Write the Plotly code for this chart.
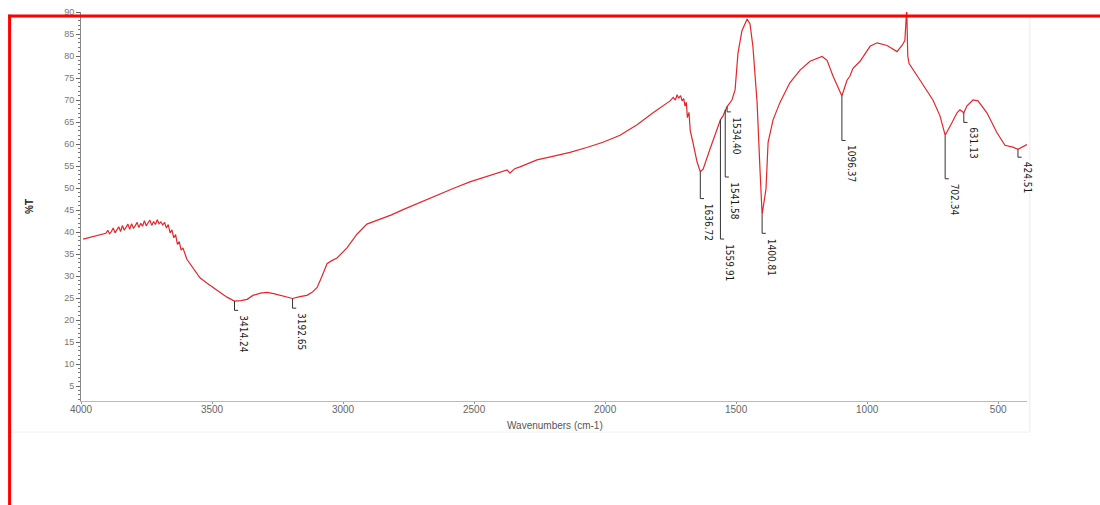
import plotly.graph_objects as go

# ---- spectrum data ----
wavenumber = [3992, 3960, 3927, 3905, 3898, 3891, 3884, 3877, 3870, 3863, 3856, 3849, 3842,
              3835, 3828, 3821, 3814, 3807, 3800, 3793, 3786, 3779, 3772, 3765, 3758,
              3751, 3744, 3737, 3730, 3723, 3716, 3709, 3702, 3695, 3688, 3681, 3674,
              3667, 3660, 3653, 3646, 3639, 3632, 3625, 3618, 3611, 3596, 3570, 3546, 3520,
              3496, 3470, 3443, 3414.24, 3390, 3366, 3344, 3315, 3290, 3265, 3241, 3215,
              3192.65, 3165, 3138, 3118, 3099, 3080, 3061, 3043, 3023, 2985, 2947, 2909,
              2859, 2815, 2771, 2705, 2641, 2580, 2516, 2460, 2412, 2374, 2363, 2345, 2325,
              2260, 2200, 2134, 2070, 2008, 1943, 1878, 1817, 1785, 1752, 1740, 1732, 1725,
              1719, 1712, 1706, 1700, 1695, 1690, 1686, 1680, 1675, 1665, 1649, 1636.72,
              1626, 1600, 1573, 1559.91, 1550, 1541.58, 1534.40, 1516, 1504, 1493, 1478,
              1458, 1447, 1436, 1420, 1409, 1400.81, 1386, 1378, 1359, 1333, 1295, 1256,
              1218, 1172, 1153, 1130, 1096.37, 1077, 1066, 1054, 1027, 989, 962, 924, 886,
              867, 856, 849, 845, 840, 798, 749, 722, 702.34, 676, 657, 646, 631.13, 619,
              596, 577, 543, 505, 474, 444, 424.51, 390]
transmittance = [38.4, 38.9, 39.5, 39.7, 40.4, 39.6, 40.1, 40.9, 39.8, 40.6, 41.2, 40.1, 41.5,
                 40.4, 41.1, 41.8, 40.6, 41.9, 40.9, 41.4, 42.2, 41.0, 42.0, 41.3, 42.6,
                 41.4, 42.1, 42.7, 41.5, 42.4, 41.7, 42.8, 41.9, 42.3, 41.6, 42.2, 40.9,
                 41.7, 39.8, 40.5, 38.7, 39.4, 37.2, 37.8, 35.9, 36.4, 33.8, 31.5, 29.6, 28.4,
                 27.4, 26.2, 25.2, 24.3, 24.4, 24.7, 25.6, 26.1, 26.3, 26.0, 25.6, 25.2,
                 24.9, 25.3, 25.6, 26.3, 27.4, 30.0, 32.8, 33.5, 34.1, 36.4, 39.5, 41.8,
                 42.9, 43.9, 45.1, 46.8, 48.5, 49.9, 51.4, 52.5, 53.4, 54.1, 53.4, 54.4, 54.8,
                 56.4, 57.2, 58.1, 59.2, 60.4, 62.0, 64.4, 67.1, 68.4, 69.8, 70.6, 70.0, 71.2,
                 70.4, 71.0, 69.8, 70.3, 68.6, 69.5, 66.0, 67.2, 63.0, 60.4, 55.9, 53.7,
                 54.3, 58.8, 63.3, 65.5, 66.4, 67.8, 68.5, 70.0, 72.3, 80.6, 85.7,
                 88.4, 87.3, 82.2, 69.4, 54.3, 44.0, 49.8, 60.4, 65.5, 69.4, 73.9, 76.8,
                 78.8, 79.9, 79.0, 75.4, 70.9, 74.5, 75.4, 77.2, 78.8, 82.2, 83.0, 82.4, 81.0,
                 82.4, 83.5, 90.8, 80.0, 78.3, 74.5, 70.0, 66.4, 62.0, 64.9, 67.1, 67.8, 67.1,
                 68.7, 70.0, 69.8, 67.1, 62.6, 59.7, 59.3, 58.8, 59.9]

# ---- peak labels ----
peak_labels = ["3414.24", "3192.65", "1636.72", "1559.91", "1541.58", "1534.40",
               "1400.81", "1096.37", "702.34", "631.13", "424.51"]
peak_pos = [3414.24, 3192.65, 1636.72, 1559.91, 1541.58, 1534.40,
            1400.81, 1096.37, 702.34, 631.13, 424.51]
peak_top = [24.3, 24.9, 53.7, 65.5, 67.8, 68.5, 44.0, 70.9, 62.0, 67.1, 58.8]
peak_bottom = [22.2, 22.7, 47.6, 38.4, 52.5, 67.3, 39.7, 60.8, 52.1, 64.9, 57.0]

x_ticks = [4000, 3500, 3000, 2500, 2000, 1500, 1000, 500]
y_ticks = [5, 10, 15, 20, 25, 30, 35, 40, 45, 50, 55, 60, 65, 70, 75, 80, 85, 90]

fig = go.Figure()
fig.add_trace(go.Scatter(x=wavenumber, y=transmittance, mode="lines",
                         line=dict(color="#e3262b", width=1.2), showlegend=False,
                         hoverinfo="x+y"))

shapes = []
annotations = []
for lab, xp, yt, yb in zip(peak_labels, peak_pos, peak_top, peak_bottom):
    shapes.append(dict(type="line", xref="x", yref="y", x0=xp, x1=xp, y0=yt, y1=yb,
                       line=dict(color="#333333", width=1)))
    shapes.append(dict(type="line", xref="x", yref="y", x0=xp, x1=xp - 14, y0=yb, y1=yb,
                       line=dict(color="#333333", width=1)))
    annotations.append(dict(x=xp, y=yb, xref="x", yref="y", text=lab, showarrow=False,
                            textangle=90, xanchor="center", yanchor="top", xshift=9, yshift=-3,
                            font=dict(family="Liberation Sans Narrow, DejaVu Sans Condensed, Arial",
                                      size=10, color="#1a1a1a")))

# axis titles
annotations.append(dict(x=0.501, y=-0.063, xref="paper", yref="paper",
                        text="Wavenumbers (cm-1)", showarrow=False, yanchor="middle",
                        font=dict(family="Arial, Liberation Sans", size=10, color="#555555")))
annotations.append(dict(x=-0.0624, y=0.5, xref="paper", yref="paper",
                        text="<b>%T</b>", showarrow=False, textangle=-90,
                        font=dict(family="Arial, Liberation Sans", size=10, color="#222222")))

# faint frame of the original picture
shapes.append(dict(type="line", xref="paper", yref="paper", x0=1.003, x1=1.003, y0=0.99, y1=-0.08,
                   line=dict(color="#ececec", width=1)))
shapes.append(dict(type="line", xref="paper", yref="paper", x0=-0.075, x1=1.003, y0=-0.08, y1=-0.08,
                   line=dict(color="#f0f0f0", width=1)))
# red border
shapes.append(dict(type="line", xref="paper", yref="paper", x0=-0.077, x1=1.08, y0=0.9898, y1=0.9898,
                   line=dict(color="#ff0000", width=3), layer="above"))
shapes.append(dict(type="line", xref="paper", yref="paper", x0=-0.0755, x1=-0.0755, y0=0.993, y1=-0.28,
                   line=dict(color="#ff0000", width=3), layer="above"))

fig.update_layout(
    width=1100, height=505,
    margin=dict(l=81, r=73, t=7, b=104),
    paper_bgcolor="white", plot_bgcolor="white",
    shapes=shapes, annotations=annotations,
    xaxis=dict(range=[4000, 390], tickvals=x_ticks, ticktext=[str(v) for v in x_ticks],
               showgrid=False, zeroline=False, showline=True, linecolor="#bbbbbb", linewidth=1,
               ticks="outside", ticklen=2, tickcolor="#999999", ticklabelstandoff=-3,
               tickfont=dict(family="Arial, Liberation Sans", size=10, color="#666666")),
    yaxis=dict(range=[1.6, 90], tickvals=y_ticks, ticktext=[str(v) for v in y_ticks],
               showgrid=False, zeroline=False, showline=True, linecolor="#888888", linewidth=1,
               ticks="outside", ticklen=4, tickcolor="#666666",
               minor=dict(dtick=1, ticks="outside", ticklen=2, tickcolor="#777777", showgrid=False),
               tickfont=dict(family="Arial, Liberation Sans", size=9, color="#777777")),
)

fig.write_html("out.html", config={"displayModeBar": False},
               post_script="document.body.style.margin='0';document.body.style.overflow='hidden';")
